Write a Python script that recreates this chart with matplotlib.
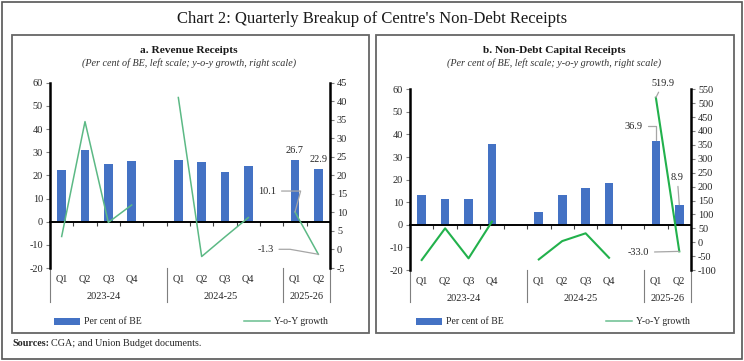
import numpy as np
import matplotlib
matplotlib.use("Agg")
import matplotlib.pyplot as plt
from matplotlib.patches import Rectangle, Patch
from matplotlib.lines import Line2D

plt.rcParams['font.family'] = ['Liberation Serif', 'DejaVu Serif']
plt.rcParams['axes.unicode_minus'] = False

# ---------------- data ----------------
quarters = ["Q1", "Q2", "Q3", "Q4", "", "Q1", "Q2", "Q3", "Q4", "", "Q1", "Q2"]
years = ["2023-24", "2024-25", "2025-26"]

rev_share = [22.4, 31.0, 24.7, 26.3, np.nan, 26.7, 25.6, 21.6, 24.1, np.nan, 26.7, 22.9]
rev_growth = [3.5, 34.5, 7.3, 12.0, np.nan, 41.0, -1.9, 3.4, 8.6, np.nan, 10.1, -1.3]

cap_share = [13.0, 11.4, 11.4, 35.8, np.nan, 5.8, 13.0, 16.4, 18.7, np.nan, 36.9, 8.9]
cap_growth = [-64, 50, -58, 74, np.nan, -62, 4, 32, -56, np.nan, 519.9, -33.0]

left_ticks = list(range(-20, 61, 10))
rev_right_ticks = list(range(-5, 46, 5))
cap_right_ticks = list(range(-100, 551, 50))

BAR = '#4472c4'
GREEN_A = '#5cb985'
GREEN_B = '#22b14c'
LEAD = '#a6a6a6'
TXT = '#262626'
FS = 7.4

W, H = 744, 361
fig = plt.figure(figsize=(W / 100, H / 100), dpi=100)


def fx(px):
    return px / W


def fy(py):
    return 1 - py / H


# outer frame and panel boxes
fig.patches.append(Rectangle((fx(2), fy(359)), fx(740), 357 / H, transform=fig.transFigure,
                             fill=False, edgecolor='#555555', linewidth=1.2))
for x0, x1 in [(12, 369), (376, 734)]:
    fig.patches.append(Rectangle((fx(x0), fy(333)), fx(x1 - x0), (333 - 35) / H,
                                 transform=fig.transFigure, fill=False,
                                 edgecolor='#666666', linewidth=1.3))

fig.text(0.5, fy(19), "Chart 2: Quarterly Breakup of Centre's Non-Debt Receipts",
         ha='center', va='center', fontsize=12, color='#1a1a1a')

s1 = fig.text(fx(12), fy(344), "Sources:", ha='left', va='center', fontsize=7.3,
              fontweight='bold', color=TXT)
fig.canvas.draw()
bb = s1.get_window_extent(fig.canvas.get_renderer())
fig.text(bb.x1 / W + 0.003, fy(344), "CGA; and Union Budget documents.", ha='left',
         va='center', fontsize=7.3, color=TXT)


def panel(rect, share, growth, rticks, green, sep_bottom, gline_w):
    ax = fig.add_axes(rect)
    ax2 = ax.twinx()
    x = np.arange(len(quarters))
    ax.bar(x, share, width=0.37, color=BAR, zorder=2)
    ax2.plot(x, growth, color=green, linewidth=gline_w, zorder=3)

    ax.set_xlim(-0.5, len(quarters) - 0.5)
    ax.set_ylim(left_ticks[0], left_ticks[-1])
    ax.set_yticks(left_ticks)
    ax2.set_ylim(rticks[0], rticks[-1])
    ax2.set_yticks(rticks)

    for a in (ax, ax2):
        a.spines['top'].set_visible(False)
        a.patch.set_visible(False)
    ax.spines['right'].set_visible(False)
    ax2.spines['bottom'].set_visible(False)
    ax2.spines['left'].set_visible(False)
    ax.spines['left'].set_linewidth(1.8)
    ax2.spines['right'].set_linewidth(1.8)
    ax.spines['bottom'].set_position(('data', 0))
    ax.spines['bottom'].set_linewidth(1.4)
    ax.set_xticks(np.arange(-0.5, len(quarters), 1.0))
    ax.set_xticklabels([])
    ax.tick_params(axis='x', length=3, width=0.8, color='#404040', direction='out')
    ax.tick_params(axis='y', length=3, width=0.8, color='#808080', labelsize=FS,
                   labelcolor=TXT, pad=2)
    ax2.tick_params(axis='y', length=3, width=0.8, color='#808080', labelsize=FS,
                    labelcolor=TXT, pad=2)

    trans = ax.get_xaxis_transform()
    for i, q in enumerate(quarters):
        if q:
            ax.text(i, -0.06, q, transform=trans, ha='center', va='center', fontsize=FS, color=TXT)
    for xc, yl in zip([1.8, 6.8, 10.5], years):
        ax.text(xc, -0.155, yl, transform=trans, ha='center', va='center', fontsize=FS, color=TXT)
    for xs in [-0.5, 4.5, 9.5, 11.5]:
        ax.plot([xs, xs], [0, sep_bottom], transform=trans, color='#7f7f7f',
                linewidth=0.8, clip_on=False)
    return ax, ax2


ax, ax2 = panel([fx(50), fy(268), fx(280), 185.3 / H], rev_share, rev_growth,
                rev_right_ticks, GREEN_A, -0.183, 1.1)
fig.text(fx(189), fy(50.5), "a. Revenue Receipts", ha='center', va='center',
         fontsize=8.2, fontweight='bold', color='#1a1a1a')
fig.text(fx(189), fy(63), "(Per cent of BE, left scale; y-o-y growth, right scale)",
         ha='center', va='center', fontsize=7.3, style='italic', color='#333333')

# data labels panel a
for i in (10, 11):
    ax.annotate(f"{rev_share[i]:.1f}", (i, rev_share[i]), xytext=(0, 9),
                textcoords='offset pixels', ha='center', va='center', fontsize=FS, color=TXT)
ax2.annotate(f"{rev_growth[10]:.1f}", (10, rev_growth[10]), xytext=(-28, 21),
             textcoords='offset pixels', ha='center', va='center', fontsize=FS, color=TXT,
             arrowprops=dict(arrowstyle='-', color=LEAD, lw=0.9, shrinkA=2, shrinkB=0,
                             connectionstyle='angle,angleA=0,angleB=75,rad=0'))
ax2.annotate(f"{rev_growth[11]:.1f}", (11, rev_growth[11]), xytext=(-53, 5),
             textcoords='offset pixels', ha='center', va='center', fontsize=FS, color=TXT,
             arrowprops=dict(arrowstyle='-', color=LEAD, lw=0.9, shrinkA=2, shrinkB=0,
                             connectionstyle='angle,angleA=0,angleB=170,rad=0'))

bx, bx2 = panel([fx(410), fy(270), fx(281), 180.7 / H], cap_share, cap_growth,
                cap_right_ticks, GREEN_B, -0.175, 1.5)
fig.text(fx(554), fy(50.5), "b. Non-Debt Capital Receipts", ha='center', va='center',
         fontsize=8.2, fontweight='bold', color='#1a1a1a')
fig.text(fx(554), fy(63), "(Per cent of BE, left scale; y-o-y growth, right scale)",
         ha='center', va='center', fontsize=7.3, style='italic', color='#333333')

bx2.annotate(f"{cap_growth[10]:.1f}", (10, cap_growth[10]), xytext=(7, 14),
             textcoords='offset pixels', ha='center', va='center', fontsize=FS, color=TXT,
             arrowprops=dict(arrowstyle='-', color=LEAD, lw=0.9, shrinkA=1, shrinkB=0))
bx.annotate(f"{cap_share[10]:.1f}", (10, cap_share[10]), xytext=(-22, 15),
            textcoords='offset pixels', ha='center', va='center', fontsize=FS, color=TXT,
            arrowprops=dict(arrowstyle='-', color=LEAD, lw=0.9, shrinkA=2, shrinkB=1,
                            connectionstyle='angle,angleA=0,angleB=90,rad=0'))
bx.annotate(f"{cap_share[11]:.1f}", (11, cap_share[11]), xytext=(-2, 27),
            textcoords='offset pixels', ha='center', va='center', fontsize=FS, color=TXT,
            arrowprops=dict(arrowstyle='-', color=LEAD, lw=0.9, shrinkA=1, shrinkB=0))
bx2.annotate(f"{cap_growth[11]:.1f}", (11, cap_growth[11]), xytext=(-41, -1),
             textcoords='offset pixels', ha='center', va='center', fontsize=FS, color=TXT,
             arrowprops=dict(arrowstyle='-', color=LEAD, lw=0.9, shrinkA=2, shrinkB=0))

# legends
for lx in [fx(50), fx(412)]:
    handles = [Patch(facecolor=BAR, edgecolor='none'),
               Line2D([], [], color='#6abf8f', linewidth=1.1)]
    fig.legend(handles, ["Per cent of BE", "Y-o-Y growth"], loc='center left',
               bbox_to_anchor=(lx, fy(322)), ncol=2, frameon=False, fontsize=7,
               handlelength=2.7, handleheight=0.7, handletextpad=0.4,
               columnspacing=10.5, borderaxespad=0, labelcolor=TXT)

fig.savefig("out.png", dpi=100)
